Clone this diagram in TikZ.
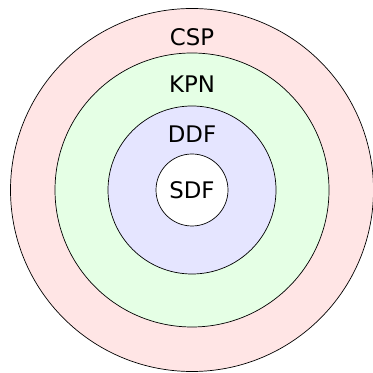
\documentclass[tikz,border=0pt]{standalone}
\usepackage{fontspec}
\setmainfont{DejaVu Sans}
\usetikzlibrary{calc}
\tikzset{
  ring/.style={draw,circle,inner sep=0pt},
  lbl/.style={font=\fontsize{13}{15}\selectfont}
}
\begin{document}
\begin{tikzpicture}
    \useasboundingbox (0,0) rectangle (7.46,7.46);
    \coordinate (c) at (3.84,3.66);
    \node[ring,fill=red!10,minimum size=7.26cm] (csp) at (c) {};
    \node[ring,fill=green!10,minimum size=5.48cm] (kpn) at (c) {};
    \node[ring,fill=blue!10,minimum size=3.36cm] (ddf) at (c) {};
    \node[ring,fill=white,minimum size=1.44cm,lbl] (sdf) at (c) {SDF};
    \node[lbl] (csplbl) at ($(c)+(0,3.06)$) {CSP};
    \node[lbl] (kpnlbl) at ($(c)+(0,2.12)$) {KPN};
    \node[lbl] (ddflbl) at ($(c)+(0,1.11)$) {DDF};
\end{tikzpicture}
\end{document}
